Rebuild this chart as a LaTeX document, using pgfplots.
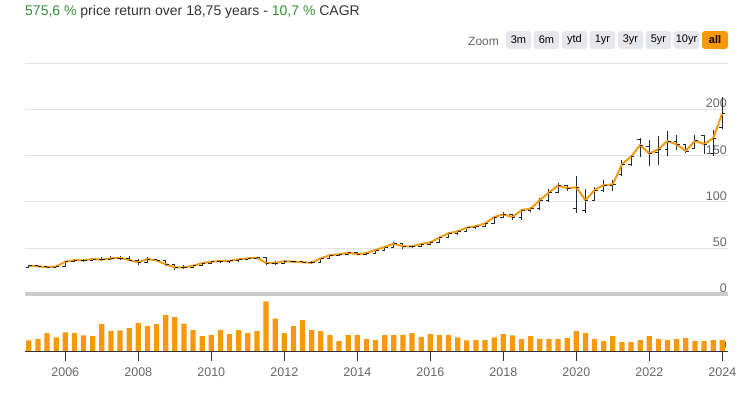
\documentclass[border=0pt]{standalone}
\usepackage{pgfplots}
\pgfplotsset{compat=1.18}
\usepackage{pgfplotstable}
\usepackage{fontspec}
\setmainfont{Liberation Sans}
\definecolor{hcorange}{RGB}{248,152,12}
\definecolor{ohlc}{RGB}{28,43,58}
\definecolor{gridc}{RGB}{228,228,228}
\definecolor{lab}{RGB}{102,102,102}
\definecolor{txt}{RGB}{51,51,51}
\definecolor{grn}{RGB}{52,145,52}
\definecolor{btn}{RGB}{230,231,236}
\definecolor{navbar}{RGB}{204,204,204}
\definecolor{axc}{RGB}{51,51,51}
\pgfdeclareplotmark{otick}{\pgfpathmoveto{\pgfqpoint{-3pt}{0pt}}\pgfpathlineto{\pgfqpoint{0pt}{0pt}}\pgfusepathqstroke}
\pgfdeclareplotmark{ctick}{\pgfpathmoveto{\pgfqpoint{0pt}{0pt}}\pgfpathlineto{\pgfqpoint{3pt}{0pt}}\pgfusepathqstroke}
\pgfplotstableread{
t o h l c v
2005.00 29.0 31.5 28.5 30.7 32
2005.25 30.7 31.5 29.3 30.1 36
2005.50 30.1 30.8 28.6 29.3 54
2005.75 29.3 31.0 28.8 29.9 41
2006.00 29.9 36.0 29.5 35.0 56
2006.25 35.0 38.5 34.5 36.9 54
2006.50 36.9 38.0 35.0 36.5 47
2006.75 36.5 39.5 36.0 38.0 45
2007.00 38.0 40.0 35.5 37.3 81
2007.25 37.3 41.0 36.5 38.7 60
2007.50 38.7 41.5 37.0 39.1 62
2007.75 39.1 41.0 36.0 36.9 69
2008.00 36.9 38.0 31.5 34.4 84
2008.25 34.4 40.0 34.0 38.0 75
2008.50 38.0 38.5 35.5 36.5 81
2008.75 36.5 37.0 30.0 32.2 108
2009.00 32.2 33.0 26.0 29.0 102
2009.25 29.0 31.0 27.5 29.0 83
2009.50 29.0 32.0 28.5 30.7 63
2009.75 30.7 35.0 30.0 33.5 45
2010.00 33.5 36.0 32.5 35.1 48
2010.25 35.1 37.0 34.0 35.8 63
2010.50 35.8 37.0 34.0 35.9 51
2010.75 35.9 38.5 35.0 37.6 63
2011.00 37.6 39.5 36.5 38.7 54
2011.25 38.7 40.5 37.5 39.4 60
2011.50 39.4 40.0 31.5 33.7 150
2011.75 33.7 35.5 32.0 33.7 98
2012.00 33.7 36.5 33.0 35.5 54
2012.25 35.5 36.0 34.0 35.1 75
2012.50 35.1 36.0 33.5 34.4 93
2012.75 34.4 35.5 33.0 34.0 63
2013.00 34.0 39.5 33.5 38.7 60
2013.25 38.7 43.0 38.0 42.0 48
2013.50 42.0 44.5 41.0 43.1 30
2013.75 43.1 46.0 42.5 44.8 48
2014.00 44.8 45.5 42.0 43.1 48
2014.25 43.1 45.5 42.5 44.4 36
2014.50 44.4 48.5 44.0 47.7 33
2014.75 47.7 52.0 47.0 51.0 48
2015.00 51.0 56.0 50.5 54.6 48
2015.25 54.6 55.0 49.0 51.7 48
2015.50 51.7 53.5 49.5 51.7 54
2015.75 51.7 55.5 51.0 54.2 42
2016.00 54.2 57.5 53.5 56.0 51
2016.25 56.0 62.0 55.5 61.0 48
2016.50 61.0 67.0 60.5 65.8 48
2016.75 65.8 69.0 64.5 67.9 41
2017.00 67.9 73.0 67.0 71.9 32
2017.25 71.9 74.5 70.5 73.4 33
2017.50 73.4 77.5 72.5 76.6 33
2017.75 76.6 85.0 76.0 83.4 41
2018.00 83.4 89.0 82.5 86.3 51
2018.25 86.3 87.0 80.5 83.4 47
2018.50 83.4 92.5 80.0 91.0 36
2018.75 91.0 94.5 89.0 92.4 45
2019.00 92.4 104.0 91.0 101.8 36
2019.25 101.8 114.0 100.0 110.0 36
2019.50 110.0 120.5 109.0 117.5 36
2019.75 117.5 118.5 111.5 114.5 39
2020.00 93.0 127.7 87.7 115.6 60
2020.25 90.3 113.4 87.4 101.5 54
2020.50 101.5 116.0 100.5 112.7 36
2020.75 112.7 123.0 110.0 118.0 30
2021.00 118.0 124.0 112.0 118.8 45
2021.25 129.0 145.0 128.0 140.5 27
2021.50 140.5 151.0 139.0 148.7 27
2021.75 167.0 168.6 148.7 161.4 33
2022.00 159.5 166.8 139.0 152.0 45
2022.25 153.5 171.0 140.0 157.0 36
2022.50 157.0 176.5 150.0 165.7 33
2022.75 165.7 172.0 156.0 162.0 36
2023.00 162.0 162.5 152.5 154.9 39
2023.25 158.0 172.0 157.5 166.0 30
2023.50 172.0 172.5 151.5 162.4 30
2023.75 152.0 178.0 150.0 168.6 33
2024.00 180.0 213.0 179.0 195.7 33
}\data
\begin{document}
\begin{tikzpicture}
\useasboundingbox (0,0) rectangle (754pt,392pt);
% title
\node[anchor=west, inner sep=0pt, text=txt, font=\fontsize{14}{16}\selectfont] at (25pt,380pt)
  {\textcolor{grn}{575,6 \%} price return over 18,75 years - \textcolor{grn}{10,7 \%} CAGR};
% zoom buttons
\node[anchor=west, inner sep=0pt, text=lab, font=\fontsize{12}{14}\selectfont] at (468pt,351pt) {Zoom};
\foreach \lbl/\xc in {3m/518.5,6m/546.5,ytd/574.5,1yr/602.5,3yr/630.5,5yr/658.5,10yr/686.5}{
  \node[fill=btn, rounded corners=3pt, minimum width=25pt, minimum height=18pt, inner sep=0pt,
        text=black, font=\fontsize{11}{13}\selectfont] at (\xc pt,352pt) {\lbl};
}
\node[fill=hcorange, rounded corners=3pt, minimum width=26pt, minimum height=18pt, inner sep=0pt,
      text=black, font=\fontsize{11}{13}\selectfont\bfseries] at (715pt,352pt) {all};
% price pane
\begin{axis}[
  at={(25pt,97.9pt)}, anchor=south west, scale only axis,
  width=703pt, height=231pt,
  xmin=2004.896, xmax=2024.156, ymin=0, ymax=250,
  axis line style={draw=none},
  xtick=\empty,
  ytick={0,50,100,150,200,250},
  yticklabels={0,50,100,150,200,{}},
  ymajorgrids, grid style={gridc, line width=0.8pt},
  yticklabel pos=right,
  major tick length=0pt,
  ytick style={draw=none},
  yticklabel style={anchor=south east, inner sep=1pt, text=lab, font=\fontsize{12.5}{14}\selectfont},
  clip=false,
]
\draw[navbar, line width=4pt] (axis cs:2004.896,0) -- (axis cs:2024.156,0);
\addplot[draw=none, mark=none, forget plot,
  error bars/.cd, y dir=both, y explicit, error mark=none,
  error bar style={draw=ohlc, line width=0.9pt}]
  table[x=t, y=c, y error plus expr=\thisrow{h}-\thisrow{c}, y error minus expr=\thisrow{c}-\thisrow{l}] {\data};
\addplot[ohlc, only marks, mark=otick, mark options={line width=0.9pt}] table[x=t, y=o] {\data};
\addplot[ohlc, only marks, mark=ctick, mark options={line width=0.9pt}] table[x=t, y=c] {\data};
\addplot[hcorange, line width=2pt, mark=none] table[x=t, y=c] {\data};
\end{axis}
% volume pane
\begin{axis}[
  at={(25pt,41pt)}, anchor=south west, scale only axis,
  width=703pt, height=50.7pt,
  xmin=2004.896, xmax=2024.156, ymin=0, ymax=153,
  axis line style={draw=none},
  xtick={2006,2008,2010,2012,2014,2016,2018,2020,2022,2024},
  xticklabels={2006,2008,2010,2012,2014,2016,2018,2020,2022,2024},
  xtick pos=bottom, xtick align=outside,
  major tick length=9.7pt,
  x tick style={axc, line width=0.9pt},
  xticklabel style={text=lab, font=\fontsize{12.5}{14}\selectfont, yshift=-4pt},
  ytick={0}, yticklabels={0},
  yticklabel pos=right,
  y tick style={draw=none},
  yticklabel style={anchor=south east, inner sep=1pt, text=lab, font=\fontsize{12.5}{14}\selectfont},
  clip=false,
]
\addplot[ybar, bar width=5.3pt, fill=hcorange, draw=none] table[x=t, y=v] {\data};
\draw[axc, line width=1pt] (axis cs:2004.896,0) -- (axis cs:2024.156,0);
\end{axis}
\end{tikzpicture}
\end{document}
